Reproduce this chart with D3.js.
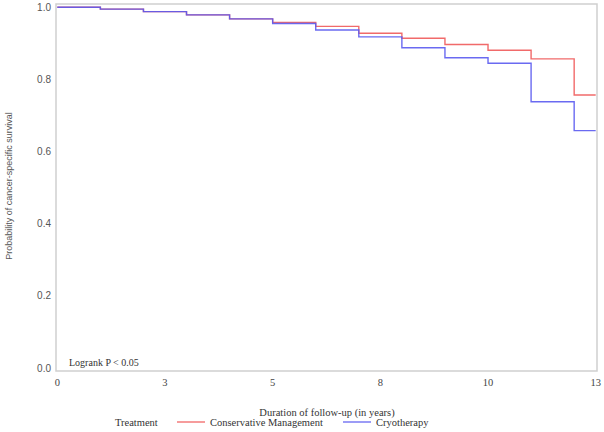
<!DOCTYPE html>
<html><head><meta charset="utf-8">
<script src="https://cdn.jsdelivr.net/npm/d3@7"></script>
<style>html,body{margin:0;padding:0;background:#fff;}svg{display:block;}</style>
</head><body>
<svg id="chart" width="604" height="432"></svg>
<script>
// ---- data ----
const stepTimes    = [0, 1.04, 2.08, 3.12, 4.16, 5.2, 6.24, 7.28, 8.32, 9.36, 10.4, 11.44, 12.48, 13];
const conservative = [1.0, 0.995, 0.988, 0.979, 0.968, 0.958, 0.947, 0.928, 0.914, 0.897, 0.881, 0.857, 0.757, 0.757];
const cryotherapy  = [1.0, 0.995, 0.988, 0.979, 0.968, 0.955, 0.937, 0.918, 0.888, 0.860, 0.845, 0.738, 0.658, 0.658];
const xTickValues  = [0, 2.6, 5.2, 7.8, 10.4, 13];
const xTickLabels  = ["0", "3", "5", "8", "10", "13"];
const yTickValues  = [0, 0.2, 0.4, 0.6, 0.8, 1.0];
const seriesNames  = ["Conservative Management", "Cryotherapy"];
const seriesColors = ["#f05a5a", "#5a5af0"];

const svg = d3.select("#chart");
const x = d3.scaleLinear().domain([0, 13]).range([57.3, 595.7]);
const y = d3.scaleLinear().domain([0, 1]).range([368, 7.3]);

// frame
svg.append("rect").attr("x", 56).attr("y", 4).attr("width", 541).attr("height", 367)
  .attr("fill", "none").attr("stroke", "#cfcfcf").attr("stroke-width", 1.5);

// y tick labels
svg.append("g").selectAll("text").data(yTickValues).join("text")
  .attr("x", 51).attr("y", d => y(d)).attr("dy", "0.35em")
  .attr("text-anchor", "end").attr("font-family", "Liberation Sans, Arial, sans-serif")
  .attr("font-size", 10).attr("fill", "#555").text(d => d.toFixed(1));

// x tick labels
svg.append("g").selectAll("text").data(xTickValues).join("text")
  .attr("x", d => x(d)).attr("y", 382).attr("dy", "0.35em")
  .attr("text-anchor", "middle").attr("font-family", "Liberation Serif, Times New Roman, serif")
  .attr("font-size", 10.5).attr("fill", "#444").text((d, i) => xTickLabels[i]);

// axis titles
svg.append("text").attr("x", 327).attr("y", 412).attr("dy", "0.35em").attr("text-anchor", "middle")
  .attr("font-family", "Liberation Serif, Times New Roman, serif").attr("font-size", 10.5).attr("fill", "#333")
  .text("Duration of follow-up (in years)");
svg.append("text").attr("transform", "translate(9,186) rotate(-90)").attr("dy", "0.35em").attr("text-anchor", "middle")
  .attr("font-family", "Liberation Sans, Arial, sans-serif").attr("font-size", 9).attr("fill", "#555")
  .text("Probability of cancer-specific survival");

// survival curves
const line = d3.line().x(d => x(d[0])).y(d => y(d[1])).curve(d3.curveStepAfter);
[conservative, cryotherapy].forEach((vals, i) => {
  svg.append("path").datum(stepTimes.map((t, j) => [t, vals[j]]))
    .attr("d", line).attr("fill", "none").attr("stroke", seriesColors[i])
    .attr("stroke-width", 1.4).attr("stroke-opacity", 0.9);
});

// annotation
svg.append("text").attr("x", 69).attr("y", 362).attr("dy", "0.35em")
  .attr("font-family", "Liberation Serif, Times New Roman, serif").attr("font-size", 10).attr("fill", "#333")
  .text("Logrank P < 0.05");

// legend
const lg = svg.append("g").attr("font-family", "Liberation Serif, Times New Roman, serif").attr("font-size", 10.5).attr("fill", "#333");
lg.append("text").attr("x", 115).attr("y", 422).attr("dy", "0.35em").text("Treatment");
const legX = [177, 343];
seriesNames.forEach((n, i) => {
  lg.append("line").attr("x1", legX[i]).attr("x2", legX[i] + 28).attr("y1", 422).attr("y2", 422)
    .attr("stroke", seriesColors[i]).attr("stroke-width", 1.2);
  lg.append("text").attr("x", legX[i] + 33).attr("y", 422).attr("dy", "0.35em").text(n);
});
</script>
</body></html>
